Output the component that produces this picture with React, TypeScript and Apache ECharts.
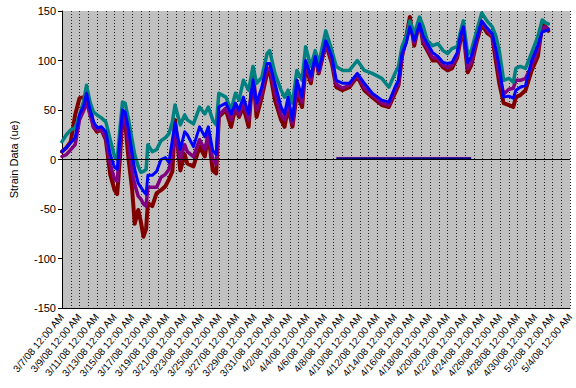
import React, { useEffect, useRef } from "react";
import * as echarts from "echarts";

// day offsets from 3/7/08 12:00 AM
const days = [
  0.0, 0.5, 1.0, 1.5, 2.0, 2.5, 2.8, 3.2, 3.6, 4.0, 4.5, 5.0, 5.5, 6.0, 6.3, 6.6, 6.9, 7.2, 7.6, 8.0,
  8.3, 8.7, 9.0, 9.3, 9.6, 9.8, 10.3, 10.8, 11.3, 11.8, 12.2, 12.6, 12.9, 13.5, 14.0, 14.3, 15.0, 15.7, 16.3, 16.7,
  17.2, 17.6, 17.9, 18.7, 19.3, 19.8, 20.2, 20.7, 21.3, 21.8, 22.2, 22.8, 23.4, 23.7, 24.3, 25.0, 25.4, 25.8, 26.3, 26.8,
  27.4, 27.8, 28.4, 28.9, 29.3, 30.1, 30.8, 31.3, 32.0, 32.8, 33.7, 34.5, 35.4, 36.5, 37.3, 38.0, 38.4, 38.8, 39.3, 39.7,
  40.2, 40.8, 41.2, 41.7, 42.3, 42.9, 43.5, 44.0, 44.5, 45.1, 45.5, 45.8, 46.3, 46.7, 47.3, 47.9, 48.5, 49.1, 49.5, 49.9,
  50.4, 51.0, 51.5, 51.8, 52.3, 52.9, 53.6, 54.3, 54.8, 55.2, 55.5,
];

const tealValues = [
  18, 25, 30, 32, 45, 60, 75, 58, 48, 45, 42, 38, 20, 3, 0, 30, 58, 57, 40, 20,
  5, -7, -13, -12, -10, 15, 8, 10, 19, 22, 26, 38, 55, 35, 45, 40, 36, 53, 46, 53,
  40, 35, 67, 63, 50, 67, 60, 80, 70, 94, 77, 83, 107, 110, 87, 70, 63, 70, 57, 90,
  80, 114, 94, 110, 97, 130, 110, 94, 90, 90, 100, 90, 87, 82, 73, 87, 94, 114, 125, 140,
  127, 144, 135, 120, 115, 117, 110, 107, 112, 114, 130, 140, 106, 110, 129, 148, 140, 134, 125, 110,
  80, 82, 78, 92, 94, 92, 108, 124, 141, 138, 137,
];

const blueValues = [
  8, 12, 17, 22, 45, 55, 67, 50, 38, 32, 33, 28, 5, -8, -10, 20, 50, 48, 30, 6,
  -10, -24, -28, -32, -35, -16, -16, -12, 0, 2, -3, 20, 37, 10, 28, 25, 13, 33, 23, 33,
  9, 5, 53, 57, 46, 57, 50, 63, 46, 80, 57, 73, 97, 97, 77, 53, 46, 63, 40, 80,
  63, 100, 84, 104, 90, 120, 104, 80, 77, 77, 87, 77, 67, 60, 58, 73, 80, 107, 118, 134,
  120, 137, 125, 117, 108, 104, 98, 97, 98, 108, 126, 134, 98, 104, 122, 140, 133, 127, 112, 94,
  63, 64, 62, 70, 73, 75, 100, 115, 129, 130, 131,
];

const purpleValues = [
  3, 5, 10, 15, 40, 50, 58, 45, 33, 30, 30, 22, -5, -20, -22, 10, 45, 42, 15, -12,
  -25, -37, -40, -45, -47, -28, -28, -28, -18, -15, -10, 5, 30, 0, 15, 8, 3, 20, 10, 25,
  0, -5, 45, 52, 40, 55, 45, 58, 40, 85, 50, 68, 92, 92, 68, 45, 40, 58, 36, 72,
  58, 96, 80, 106, 88, 118, 100, 76, 72, 75, 86, 72, 65, 57, 55, 70, 77, 105, 120, 138,
  118, 138, 120, 112, 103, 102, 95, 93, 95, 105, 124, 132, 92, 98, 120, 139, 131, 125, 106, 86,
  66, 71, 72, 80, 80, 82, 95, 110, 133, 134, 132,
];

const redValues = [
  8, 12, 18, 45, 62, 63, 60, 55, 33, 28, 30, 20, -15, -31, -35, 0, 43, 38, 0, -30,
  -65, -51, -63, -78, -70, -44, -47, -34, -31, -27, -20, -12, 40, -11, 5, -4, -7, 13, 3, 26,
  -11, -14, 43, 50, 33, 53, 43, 53, 33, 90, 43, 63, 87, 90, 60, 40, 33, 53, 33, 67,
  53, 94, 77, 107, 87, 117, 97, 73, 70, 73, 84, 70, 63, 55, 53, 67, 75, 104, 125, 144,
  115, 140, 118, 110, 100, 100, 93, 90, 92, 103, 122, 130, 88, 95, 118, 137, 128, 124, 100, 77,
  57, 55, 53, 63, 65, 70, 90, 104, 136, 134, 130,
];

// flat readings near zero (4/9 - 4/23)
const flatDays = [31.3, 33.0, 35.0, 37.0, 39.0, 41.0, 43.0, 45.0, 46.7];
const flatNavy = [1, 1, 1, 1, 1, 1, 1, 1, 1];
const flatPink = [2, 2, 2, 2, 2, 2, 2, 2, 2];

const yTicks = { min: -150, max: 150, interval: 50 };
const xRange = { min: 0, max: 58 };
const baseDate = Date.UTC(2008, 2, 7);

function pairs(xs: number[], ys: number[]) {
  return xs.map((x, i) => [x, ys[i]]);
}

function dateLabel(v: number) {
  if (Math.round(v) % 2 !== 0) return "";
  const d = new Date(baseDate + Math.round(v) * 86400000);
  return `${d.getUTCMonth() + 1}/${d.getUTCDate()}/08 12:00 AM`;
}

export default function App() {
  const ref = useRef<HTMLDivElement>(null);
  useEffect(() => {
    if (!ref.current) return;
    const chart = echarts.init(ref.current, undefined, { renderer: "svg" });
    const lineSeries = (name: string, data: number[], color: string, width: number) => ({
      name,
      type: "line",
      data: pairs(days, data),
      showSymbol: false,
      symbol: "none",
      lineStyle: { color, width, join: "round", cap: "round" },
      itemStyle: { color },
      z: 2,
    });
    chart.setOption({
      animation: false,
      backgroundColor: "#ffffff",
      textStyle: { fontFamily: "Liberation Sans, Arial, sans-serif" },
      grid: {
        left: 52,
        top: 11,
        right: 3,
        bottom: 80,
        show: true,
        backgroundColor: "#C0C0C0",
        borderWidth: 0,
      },
      xAxis: {
        type: "value",
        min: xRange.min,
        max: xRange.max,
        interval: 1,
        axisLine: { show: true, onZero: false, lineStyle: { color: "#000", width: 1 } },
        axisTick: { show: false },
        splitLine: { show: true, lineStyle: { color: "#222", type: [1, 2], width: 1 } },
        axisLabel: {
          rotate: 50,
          fontSize: 10,
          color: "#000",
          margin: 7,
          formatter: dateLabel,
          showMinLabel: true,
          showMaxLabel: true,
        },
      },
      yAxis: {
        type: "value",
        min: yTicks.min,
        max: yTicks.max,
        interval: yTicks.interval,
        name: "Strain Data (ue)",
        nameLocation: "middle",
        nameRotate: 90,
        nameGap: 43,
        nameTextStyle: { fontSize: 11, color: "#000" },
        axisLine: { show: true, lineStyle: { color: "#000", width: 1 } },
        axisTick: { show: true, length: 4, lineStyle: { color: "#000" } },
        splitLine: { show: false },
        axisLabel: { fontSize: 11, color: "#000", margin: 6 },
      },
      series: [
        {
          ...lineSeries("Gauge 1", redValues, "#800000", 4),
          markLine: {
            silent: true,
            symbol: "none",
            label: { show: false },
            lineStyle: { color: "#000", width: 1, type: "solid" },
            data: [{ yAxis: 0 }],
          },
        },
        lineSeries("Gauge 2", purpleValues, "#800080", 3.5),
        lineSeries("Gauge 3", tealValues, "#008080", 3.5),
        lineSeries("Gauge 4", blueValues, "#0000FF", 3),
        {
          name: "Gauge 5",
          type: "line",
          data: pairs(flatDays, flatPink),
          showSymbol: false,
          symbol: "none",
          lineStyle: { color: "#FF66CC", width: 1.5 },
        },
        {
          name: "Gauge 6",
          type: "line",
          data: pairs(flatDays, flatNavy),
          showSymbol: false,
          symbol: "none",
          lineStyle: { color: "#000080", width: 2.5 },
        },
      ],
    });
    return () => chart.dispose();
  }, []);
  return (
    <div
      ref={ref}
      style={{ position: "absolute", left: 0, top: 0, width: 576, height: 388 }}
    />
  );
}
